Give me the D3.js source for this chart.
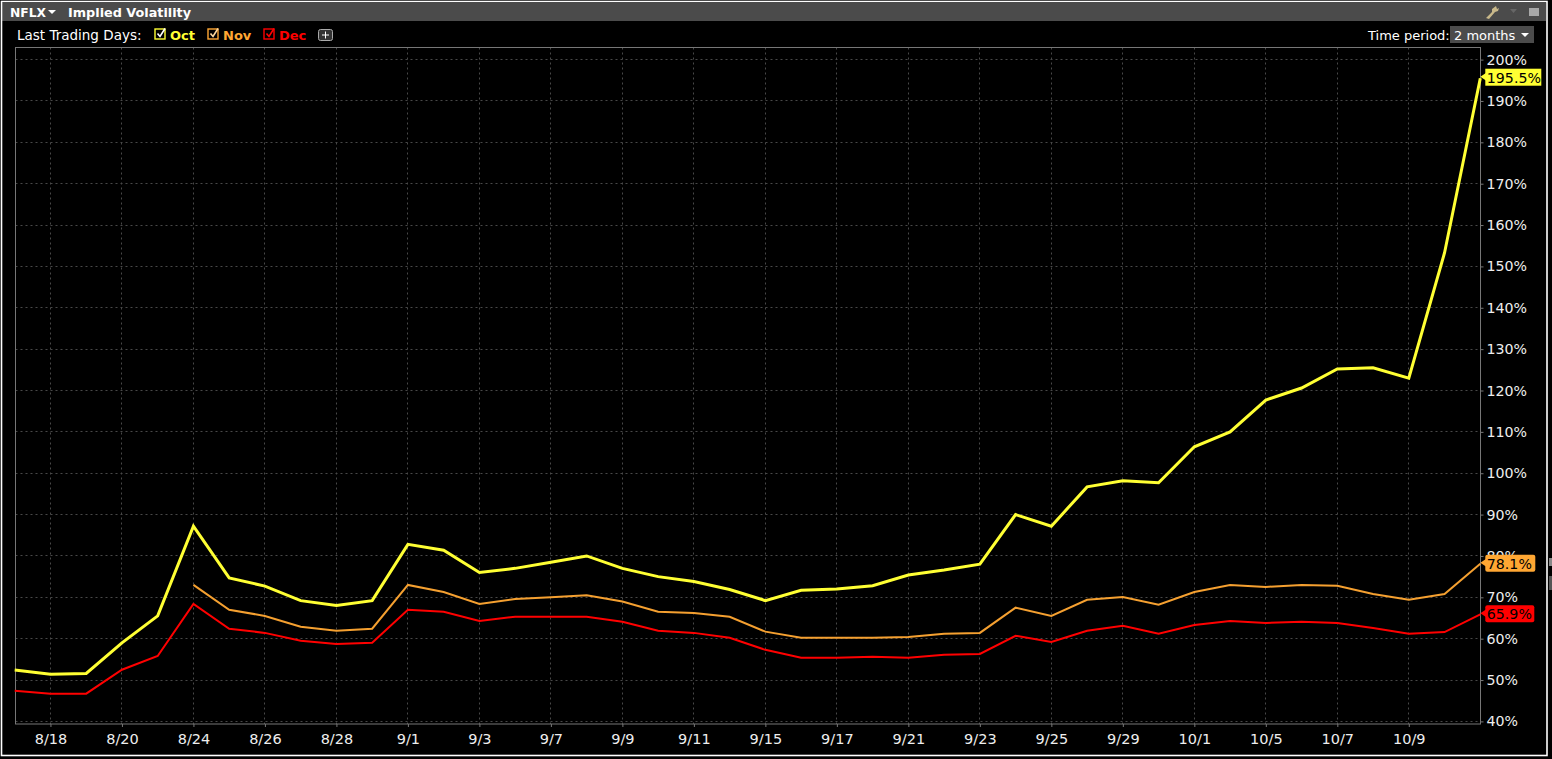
<!DOCTYPE html>
<html><head><meta charset="utf-8">
<script src="https://cdn.jsdelivr.net/npm/d3@7"></script>
<style>html,body{margin:0;padding:0;background:#000;overflow:hidden}svg{display:block}text{font-family:"DejaVu Sans",sans-serif}</style>
</head><body><div id="chart"></div>
<script>
const days=["8/17","8/18","8/19","8/20","8/21","8/24","8/25","8/26","8/27","8/28","8/31","9/1","9/2","9/3","9/4","9/7","9/8","9/9","9/10","9/11","9/14","9/15","9/16","9/17","9/18","9/21","9/22","9/23","9/24","9/25","9/28","9/29","9/30","10/1","10/2","10/5","10/6","10/7","10/8","10/9","10/12","10/13"];
const tickDays=["8/18","8/20","8/24","8/26","8/28","9/1","9/3","9/7","9/9","9/11","9/15","9/17","9/21","9/23","9/25","9/29","10/1","10/5","10/7","10/9"];
const yTicks=[40,50,60,70,80,90,100,110,120,130,140,150,160,170,180,190,200];
const octValues=[52.4,51.4,51.6,59,65.5,87.2,74.7,72.7,69.2,68,69.2,82.8,81.4,76,77,78.5,80,77,75,73.8,71.9,69.2,71.7,72,72.8,75.4,76.6,78,90,87.2,96.7,98.2,97.7,106.4,110,117.7,120.6,125.2,125.5,123,153.3,195.5];
const novValues=[null,null,null,null,null,73,67,65.5,62.9,61.9,62.4,73,71.3,68.4,69.6,70,70.5,69,66.5,66.2,65.3,61.7,60.2,60.2,60.2,60.4,61.2,61.4,67.5,65.5,69.4,70.1,68.2,71.3,73,72.5,73,72.8,70.8,69.4,70.8,78.1];
const decValues=[47.4,46.7,46.7,52.5,55.8,68.4,62.4,61.4,59.5,58.7,59,67,66.5,64.3,65.3,65.3,65.3,64.1,61.9,61.4,60.2,57.3,55.4,55.4,55.6,55.4,56.1,56.3,60.7,59.2,61.9,63.1,61.2,63.3,64.3,63.8,64.1,63.8,62.6,61.2,61.6,65.9];
const seriesNames=["Oct","Nov","Dec"];
const seriesColors=["#ffff33","#ffa733","#ff0000"];
const lineColors=["#ffff33","#f5a030","#ff0000"];
const seriesWidths=[3,2,2];
const allSeries=[octValues,novValues,decValues];
const endLabels=["195.5%","78.1%","65.9%"];

const W=1552,H=759,L=15.5,R=1480.5,T=47.5,B=724;
const svg=d3.select("#chart").append("svg").attr("width",W).attr("height",H);
svg.append("rect").attr("width",W).attr("height",H).attr("fill","#000");
svg.append("rect").attr("x",2).attr("y",3).attr("width",1544).attr("height",18).attr("fill","#4b4b4b");
svg.append("rect").attr("x",1.5).attr("y",1.5).attr("width",1545.5).attr("height",754).attr("fill","none").attr("stroke","#fff").attr("stroke-width",1.6);
svg.append("rect").attr("x",1549).attr("y",558).attr("width",3).attr("height",8).attr("fill","#888");
svg.append("rect").attr("x",1549).attr("y",576).attr("width",3).attr("height",14).attr("fill","#555");

const x=d3.scalePoint().domain(days).range([14.7,1480.3]);
const y=d3.scaleLinear().domain([40,200]).range([721.4,59.6]);

const txt=(xp,yp,s,fill,size,weight,anchor)=>svg.append("text").attr("x",xp).attr("y",yp).text(s).attr("fill",fill).attr("font-size",size).attr("font-weight",weight||"normal").attr("text-anchor",anchor||"start");

txt(10,16.5,"NFLX","#fff",12.3,"bold");
svg.append("path").attr("d","M48,10h8l-4,4z").attr("fill","#fff");
txt(68,16.5,"Implied Volatility","#fff",12.8,"bold");
txt(17,40,"Last Trading Days:","#fff",13.5);

const legendX=[155,208,264],legendTextX=[170,223,279];
seriesNames.forEach((n,i)=>{
  const c=seriesColors[i];
  svg.append("rect").attr("x",legendX[i]).attr("y",29).attr("width",10).attr("height",10).attr("fill","none").attr("stroke",c).attr("stroke-width",1.4);
  svg.append("path").attr("d",`M${legendX[i]+2.5},33.5l2.5,3l5,-8`).attr("fill","none").attr("stroke",i==2?"#ff0000":(i==1?"#ffd9a0":"#fff")).attr("stroke-width",1.6);
  txt(legendTextX[i],40,n,c,13,"bold");
});
svg.append("rect").attr("x",318.5).attr("y",29.5).attr("width",14).attr("height",11).attr("rx",2).attr("fill","#333").attr("stroke","#aaa");
svg.append("path").attr("d","M322,35h7M325.5,31.5v7").attr("stroke","#fff").attr("fill","none");

txt(1368,40,"Time period:","#fff",13);
svg.append("rect").attr("x",1450).attr("y",26).attr("width",84).attr("height",17).attr("fill","#4b4b4b");
txt(1454,40,"2 months","#fff",13);
svg.append("path").attr("d","M1521,33h8l-4,4z").attr("fill","#fff");
svg.append("path").attr("d","M1486,18l6,-6l0,-3l4,-3l1,3l2,-1l-1,3l-3,1l-6,7z").attr("fill","#c8b88a");
svg.append("path").attr("d","M1510,9h7l-3.5,4z").attr("fill","#666");
svg.append("rect").attr("x",1529).attr("y",8).attr("width",10).attr("height",8).attr("fill","#a8a8a8");

// grid
const grid=svg.append("g").attr("stroke","#484848").attr("stroke-dasharray","2,3").attr("stroke-width",1);
yTicks.forEach(v=>grid.append("line").attr("x1",L).attr("x2",R).attr("y1",Math.floor(y(v))+.5).attr("y2",Math.floor(y(v))+.5));
tickDays.forEach(d=>grid.append("line").attr("x1",Math.floor(x(d))+.5).attr("x2",Math.floor(x(d))+.5).attr("y1",T).attr("y2",B));

// axes
const xAxis=d3.axisBottom(x).tickValues(tickDays).tickSize(3).tickPadding(7).tickSizeOuter(0);
const gx=svg.append("g").attr("transform",`translate(0,${B})`).call(xAxis);
const yAxis=d3.axisRight(y).tickValues(yTicks).tickFormat(d=>d+"%").tickSize(3).tickPadding(3);
const gy=svg.append("g").attr("transform",`translate(${R},0)`).call(yAxis);
[gx,gy].forEach(g=>{g.selectAll("path").attr("stroke","none");g.selectAll("line").attr("stroke","#777");
  g.selectAll("text").attr("fill","#eee").style("font-family",'"DejaVu Sans",sans-serif');});
gx.selectAll("text").attr("font-size",14.5);
gy.selectAll("text").attr("font-size",14.2);
svg.append("rect").attr("x",L).attr("y",T).attr("width",R-L).attr("height",B-T).attr("fill","none").attr("stroke","#777");

// lines
const line=d3.line().defined(d=>d!=null).x((d,i)=>x(days[i])).y(d=>y(d));
allSeries.forEach((vals,i)=>{
  svg.append("path").datum(vals).attr("d",line).attr("fill","none").attr("stroke",lineColors[i]).attr("stroke-width",seriesWidths[i]).attr("stroke-linejoin","miter");
});
// end labels
const lx=x(days[days.length-1]);
const labelShift=[-1,-0.5,-0.4],labelW=[56,50,49];
allSeries.forEach((vals,i)=>{
  const v=vals[vals.length-1],yy=y(v)+labelShift[i];
  svg.append("rect").attr("x",lx+5).attr("y",yy-8.5).attr("width",labelW[i]).attr("height",17).attr("rx",i==0?0:2).attr("fill",seriesColors[i]);
  svg.append("path").attr("d",`M${lx},${yy-.5}l6,-4v8z`).attr("fill",seriesColors[i]);
  txt(lx+6.5,yy+5.5,endLabels[i],"#000",14.2);
});
</script></body></html>
